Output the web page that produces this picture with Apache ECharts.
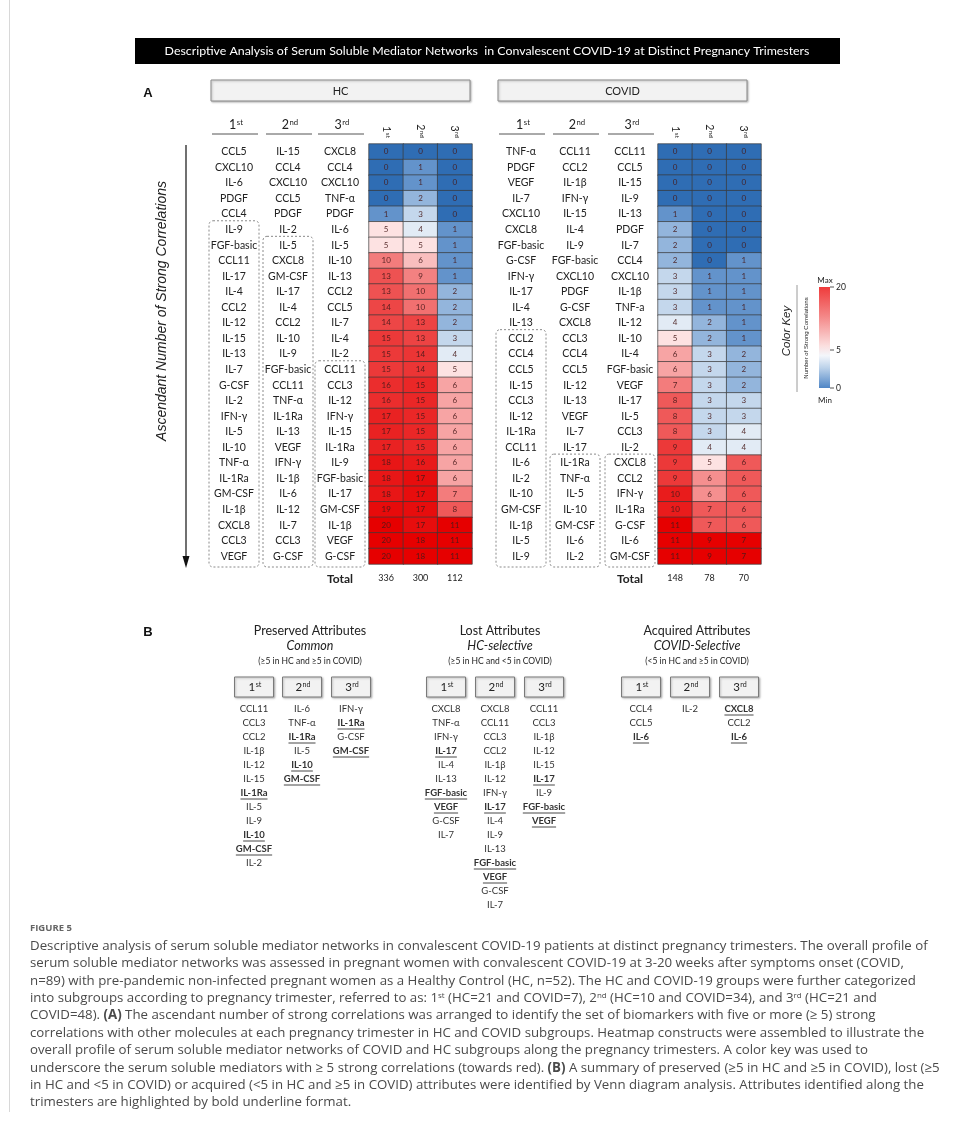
<!DOCTYPE html>
<html><head><meta charset="utf-8">
<script src="https://cdn.jsdelivr.net/npm/echarts@6/dist/echarts.min.js"></script>
<style>html,body{margin:0;padding:0;background:#fff}#c{width:956px;height:1124px}</style>
</head><body><div id="c"></div><script>
// ---------------- DATA ----------------
const trimesters = ['1st', '2nd', '3rd'];
const hc1Names = ['CCL5','CXCL10','IL-6','PDGF','CCL4','IL-9','FGF-basic','CCL11','IL-17','IL-4','CCL2','IL-12','IL-15','IL-13','IL-7','G-CSF','IL-2','IFN-γ','IL-5','IL-10','TNF-α','IL-1Ra','GM-CSF','IL-1β','CXCL8','CCL3','VEGF'];
const hc1Values = [0,0,0,0,1,5,5,10,13,13,14,14,15,15,15,16,16,17,17,17,18,18,18,19,20,20,20];
const hc2Names = ['IL-15','CCL4','CXCL10','CCL5','PDGF','IL-2','IL-5','CXCL8','GM-CSF','IL-17','IL-4','CCL2','IL-10','IL-9','FGF-basic','CCL11','TNF-α','IL-1Ra','IL-13','VEGF','IFN-γ','IL-1β','IL-6','IL-12','IL-7','CCL3','G-CSF'];
const hc2Values = [0,1,1,2,3,4,5,6,9,10,10,13,13,14,14,15,15,15,15,15,16,17,17,17,17,18,18];
const hc3Names = ['CXCL8','CCL4','CXCL10','TNF-α','PDGF','IL-6','IL-5','IL-10','IL-13','CCL2','CCL5','IL-7','IL-4','IL-2','CCL11','CCL3','IL-12','IFN-γ','IL-15','IL-1Ra','IL-9','FGF-basic','IL-17','GM-CSF','IL-1β','VEGF','G-CSF'];
const hc3Values = [0,0,0,0,0,1,1,1,1,2,2,2,3,4,5,6,6,6,6,6,6,6,7,8,11,11,11];
const cov1Names = ['TNF-α','PDGF','VEGF','IL-7','CXCL10','CXCL8','FGF-basic','G-CSF','IFN-γ','IL-17','IL-4','IL-13','CCL2','CCL4','CCL5','IL-15','CCL3','IL-12','IL-1Ra','CCL11','IL-6','IL-2','IL-10','GM-CSF','IL-1β','IL-5','IL-9'];
const cov1Values = [0,0,0,0,1,2,2,2,3,3,3,4,5,6,6,7,8,8,8,9,9,9,10,10,11,11,11];
const cov2Names = ['CCL11','CCL2','IL-1β','IFN-γ','IL-15','IL-4','IL-9','FGF-basic','CXCL10','PDGF','G-CSF','CXCL8','CCL3','CCL4','CCL5','IL-12','IL-13','VEGF','IL-7','IL-17','IL-1Ra','TNF-α','IL-5','IL-10','GM-CSF','IL-6','IL-2'];
const cov2Values = [0,0,0,0,0,0,0,0,1,1,1,2,2,3,3,3,3,3,3,4,5,6,6,7,7,9,9];
const cov3Names = ['CCL11','CCL5','IL-15','IL-9','IL-13','PDGF','IL-7','CCL4','CXCL10','IL-1β','TNF-a','IL-12','IL-10','IL-4','FGF-basic','VEGF','IL-17','IL-5','CCL3','IL-2','CXCL8','CCL2','IFN-γ','IL-1Ra','G-CSF','IL-6','GM-CSF'];
const cov3Values = [0,0,0,0,0,0,0,1,1,1,1,1,1,2,2,2,3,3,4,4,6,6,6,6,6,7,7];
const hcTotals = [336, 300, 112];
const covidTotals = [148, 78, 70];
const keyTicks = [20, 5, 0];

const preserved1 = ['CCL11','CCL3','CCL2','IL-1β','IL-12','IL-15','IL-1Ra','IL-5','IL-9','IL-10','GM-CSF','IL-2'];
const preserved2 = ['IL-6','TNF-α','IL-1Ra','IL-5','IL-10','GM-CSF'];
const preserved3 = ['IFN-γ','IL-1Ra','G-CSF','GM-CSF'];
const preservedBold = ['IL-1Ra','IL-10','GM-CSF'];
const lost1 = ['CXCL8','TNF-α','IFN-γ','IL-17','IL-4','IL-13','FGF-basic','VEGF','G-CSF','IL-7'];
const lost2 = ['CXCL8','CCL11','CCL3','CCL2','IL-1β','IL-12','IFN-γ','IL-17','IL-4','IL-9','IL-13','FGF-basic','VEGF','G-CSF','IL-7'];
const lost3 = ['CCL11','CCL3','IL-1β','IL-12','IL-15','IL-17','IL-9','FGF-basic','VEGF'];
const lostBold = ['IL-17','FGF-basic','VEGF'];
const acquired1 = ['CCL4','CCL5','IL-6'];
const acquired2 = ['IL-2'];
const acquired3 = ['CXCL8','CCL2','IL-6'];
const acquiredBold = ['CXCL8','IL-6'];

const titleText = 'Descriptive Analysis of Serum Soluble Mediator Networks  in Convalescent COVID-19 at Distinct Pregnancy Trimesters';
const captionLines = [
 'Descriptive analysis of serum soluble mediator networks in convalescent COVID-19 patients at distinct pregnancy trimesters. The overall profile of',
 'serum soluble mediator networks was assessed in pregnant women with convalescent COVID-19 at 3-20 weeks after symptoms onset (COVID,',
 'n=89) with pre-pandemic non-infected pregnant women as a Healthy Control (HC, n=52). The HC and COVID-19 groups were further categorized',
 'into subgroups according to pregnancy trimester, referred to as: 1{s|st} (HC=21 and COVID=7), 2{s|nd} (HC=10 and COVID=34), and 3{s|rd} (HC=21 and',
 'COVID=48). {b|(A)} The ascendant number of strong correlations was arranged to identify the set of biomarkers with five or more (≥ 5) strong',
 'correlations with other molecules at each pregnancy trimester in HC and COVID subgroups. Heatmap constructs were assembled to illustrate the',
 'overall profile of serum soluble mediator networks of COVID and HC subgroups along the pregnancy trimesters. A color key was used to',
 'underscore the serum soluble mediators with ≥ 5 strong correlations (towards red). {b|(B)} A summary of preserved (≥5 in HC and ≥5 in COVID), lost (≥5',
 'in HC and <5 in COVID) or acquired (<5 in HC and ≥5 in COVID) attributes were identified by Venn diagram analysis. Attributes identified along the',
 'trimesters are highlighted by bold underline format.'
];

// ---------------- STYLE / LAYOUT ----------------
const TF = 'Lato';
const gridTop = 144, gridH = 420, gridW = 103;
const hcLeft = 369, covLeft = 658;
const hcNameX = [234, 288, 340], covNameX = [521, 575, 630];
const nRows = hc1Names.length, rowH = gridH / nRows;

const measure = (() => { const c = document.createElement('canvas').getContext('2d');
  return (txt, font) => { c.font = font; return c.measureText(txt).width; }; })();

const blueRamp = ['#2f6db4', '#6393cb', '#93b5dc', '#c4d7ec', '#e2ebf5'];
function hex(h){ return [1,3,5].map(i => parseInt(h.substr(i,2),16)); }
function lerp(a, b, t){ const A = hex(a), B = hex(b);
  return 'rgb(' + A.map((v,i) => Math.round(v + (B[i]-v)*t)).join(',') + ')'; }
function stops(max){ const arr = [];
  for (let v = 0; v <= max; v++) arr.push(v < 5 ? blueRamp[v] : lerp('#fde2e2', '#e60000', max === 5 ? 1 : Math.pow((v-5)/(max-5), 0.72)));
  return arr; }

const supRich = (fs) => ({ s: { fontSize: fs * 0.62, verticalAlign: 'top', fontFamily: TF, padding: [0,0,0,0.5] } });
const supFmt = v => v[0] + '{s|' + v.slice(1) + '}';

const cols = [
  {names: hc1Names, values: hc1Values, grid: 0, x: hcNameX[0]},
  {names: hc2Names, values: hc2Values, grid: 0, x: hcNameX[1]},
  {names: hc3Names, values: hc3Values, grid: 0, x: hcNameX[2]},
  {names: cov1Names, values: cov1Values, grid: 1, x: covNameX[0]},
  {names: cov2Names, values: cov2Values, grid: 1, x: covNameX[1]},
  {names: cov3Names, values: cov3Values, grid: 1, x: covNameX[2]}
];

const grids = [hcLeft, covLeft].map(l => ({left: l, top: gridTop, width: gridW, height: gridH}));

const xAxes = [];
[hcTotals, covidTotals].forEach((tot, g) => {
  xAxes.push({gridIndex: g, type: 'category', data: trimesters, position: 'top',
    axisLine: {show: false}, axisTick: {show: false},
    axisLabel: {rotate: 90, margin: 6, fontSize: 10.5, fontFamily: TF, color: '#222',
      formatter: supFmt, rich: supRich(10.5)}});
  xAxes.push({gridIndex: g, type: 'category', data: tot.map(String), position: 'bottom',
    axisLine: {show: false}, axisTick: {show: false},
    axisLabel: {margin: 10, fontSize: 9, fontFamily: TF, color: '#222'}});
});

const yAxes = cols.map(c => {
  const left = c.grid === 0 ? hcLeft : covLeft;
  return {gridIndex: c.grid, type: 'category', data: c.names, inverse: true, position: 'left',
    offset: left - c.x, axisLine: {show: false}, axisTick: {show: false}, splitLine: {show: false},
    axisLabel: {align: 'center', margin: 0, fontSize: 10.5, fontFamily: TF, color: '#222', interval: 0}};
});

const series = cols.map((c, i) => ({
  type: 'heatmap', xAxisIndex: c.grid * 2, yAxisIndex: i,
  data: c.values.map((v, r) => [i % 3, r, v]),
  label: {show: true, fontSize: 8, fontFamily: TF, color: 'rgba(70,25,25,0.9)', formatter: p => p.value[2]},
  itemStyle: {borderColor: '#3a3a3a', borderWidth: 0.7},
  emphasis: {disabled: true}
}));

const visualMaps = cols.map((c, i) => {
  const mx = Math.max(...c.values);
  return {type: 'continuous', show: false, seriesIndex: i, dimension: 2, min: 0, max: mx, inRange: {color: stops(mx)}};
});

// ---------------- GRAPHICS ----------------
const G = [];
const txt = (x, y, text, st, extra) => G.push(Object.assign({type: 'text', x, y, silent: true,
  style: Object.assign({text, fill: '#222', align: 'center', verticalAlign: 'middle', fontFamily: TF, fontSize: 11}, st)}, extra || {}));
const line = (x1, y1, x2, y2, st) => G.push({type: 'line', silent: true, shape: {x1, y1, x2, y2}, style: Object.assign({stroke: '#333', lineWidth: 1}, st)});
const rect = (x, y, w, h, st, r) => G.push({type: 'rect', silent: true, shape: {x, y, width: w, height: h, r: r || 0}, style: st});

// left page rule
line(9.5, 0, 9.5, 1112, {stroke: '#d8d8d8', lineWidth: 1});

// title bar
rect(135, 38, 705, 26, {fill: '#000'});
{ const w = measure(titleText, '12px ' + TF); txt(487, 51, titleText, {fill: '#fff', fontSize: 12 * 645 / w}); }

// panel letters
txt(148, 93, 'A', {fontFamily: 'Liberation Sans', fontWeight: 'bold', fontSize: 13, fill: '#111'});
txt(148, 632, 'B', {fontFamily: 'Liberation Sans', fontWeight: 'bold', fontSize: 13, fill: '#111'});

// group header boxes
[[211, 259, 'HC'], [498, 249, 'COVID']].forEach(([x, w, t]) => {
  rect(x, 80, w, 21, {fill: '#f2f2f2', stroke: '#8a8a8a', lineWidth: 1, shadowBlur: 2, shadowColor: 'rgba(0,0,0,0.25)', shadowOffsetX: 1, shadowOffsetY: 1});
  txt(x + w / 2, 91, t, {fontSize: 11});
});

// name column headers + underlines
[...hcNameX, ...covNameX].forEach((x, i) => {
  txt(x + 2, 125, supFmt(trimesters[i % 3]), {fontSize: 12.5, rich: supRich(12.5)});
  line(x - 22, 134, x + 24, 134, {stroke: '#555', lineWidth: 1});
});

// totals label
txt(340, 579, 'Total', {fontSize: 12, fontWeight: 'bold'});
txt(630, 579, 'Total', {fontSize: 12, fontWeight: 'bold'});

// dashed boxes for >=5 groups (start row derived from data)
cols.forEach(c => {
  const start = c.values.findIndex(v => v >= 5);
  const y0 = gridTop + start * rowH - 1;
  rect(c.x - 25, y0, 50, gridTop + gridH + 3 - y0, {fill: 'none', stroke: '#8a8a8a', lineWidth: 1, lineDash: [2, 2]}, 4);
});

// arrow + axis caption
line(186, 145, 186, 558, {stroke: '#111', lineWidth: 1.2});
G.push({type: 'polygon', silent: true, shape: {points: [[182.5, 556], [189.5, 556], [186, 568]]}, style: {fill: '#111'}});
txt(162, 311, 'Ascendant Number of Strong Correlations', {fontFamily: 'Liberation Sans', fontStyle: 'italic', fontSize: 14, fill: '#222'}, {rotation: Math.PI / 2});

// color key
txt(787, 331, 'Color Key', {fontFamily: 'Liberation Sans', fontStyle: 'italic', fontSize: 11.5}, {rotation: Math.PI / 2});
line(797, 285, 797, 392, {stroke: '#9a9a9a'});
txt(806, 338, 'Number of Strong Correlations', {fontSize: 6, fontFamily: 'Liberation Sans'}, {rotation: Math.PI / 2});
rect(819, 287, 11, 101, {fill: new echarts.graphic.LinearGradient(0, 0, 0, 1, [
  {offset: 0, color: '#ef3b3b'}, {offset: 0.3, color: '#f48a8a'}, {offset: 0.58, color: '#fbdede'},
  {offset: 0.68, color: '#f3f6fb'}, {offset: 0.8, color: '#bcd2ea'}, {offset: 1, color: '#4f86c6'}])});
const keyY = v => v >= 5 ? 287 + (20 - v) / 15 * 63 : 350 + (5 - v) / 5 * 38;
keyTicks.forEach(v => { line(830, keyY(v), 834, keyY(v), {stroke: '#555'}); txt(836, keyY(v), String(v), {align: 'left', fontSize: 8.5}); });
txt(825, 280, 'Max', {fontSize: 8});
txt(825, 400, 'Min', {fontSize: 8});

// ---------------- Panel B ----------------
const panels = [
  {title: 'Preserved Attributes', sub: 'Common', cond: '(≥5 in HC and ≥5 in COVID)', cx: 310, xs: [254, 302, 351], lists: [preserved1, preserved2, preserved3], bold: preservedBold},
  {title: 'Lost Attributes', sub: 'HC-selective', cond: '(≥5 in HC and <5 in COVID)', cx: 500, xs: [446, 495, 544], lists: [lost1, lost2, lost3], bold: lostBold},
  {title: 'Acquired Attributes', sub: 'COVID-Selective', cond: '(<5 in HC and ≥5 in COVID)', cx: 697, xs: [641, 690, 739], lists: [acquired1, acquired2, acquired3], bold: acquiredBold}
];
panels.forEach(p => {
  txt(p.cx, 631, p.title, {fontSize: 12.5});
  txt(p.cx, 646, p.sub, {fontSize: 12.5, fontStyle: 'italic'});
  txt(p.cx, 661, p.cond, {fontSize: 8.5});
  p.xs.forEach((x, k) => {
    rect(x - 19.5, 677, 39, 20, {fill: '#f2f2f2', stroke: '#7a7a7a', lineWidth: 1, shadowBlur: 2, shadowColor: 'rgba(0,0,0,0.25)', shadowOffsetX: 1, shadowOffsetY: 1});
    txt(x + 1, 687, supFmt(trimesters[k]), {fontSize: 11.5, rich: supRich(11.5)});
    p.lists[k].forEach((name, r) => {
      const y = 709 + r * 14;
      const b = p.bold.includes(name);
      txt(x, y, name, {fontSize: 9.5, fontWeight: b ? 'bold' : 'normal', fill: '#333'});
      if (b) { const w = measure(name, 'bold 9.5px ' + TF); line(x - w / 2, y + 6, x + w / 2, y + 6, {stroke: '#333', lineWidth: 0.9}); }
    });
  });
});

// ---------------- Caption ----------------
txt(30, 928, 'FIGURE 5', {align: 'left', fontFamily: 'Open Sans', fontWeight: 'bold', fontSize: 9.5, fill: '#666'});
{
  const base = 12; const w = measure(captionLines[0], base + 'px "Open Sans"');
  const fs = base * 899 / w;
  captionLines.forEach((l, i) => txt(30, 946 + i * 17.4, l, {align: 'left', fontFamily: 'Open Sans', fontSize: fs, fill: '#4a4a4a',
    rich: {s: {fontSize: fs * 0.6, verticalAlign: 'top', fontFamily: 'Open Sans', fill: '#4a4a4a'},
           b: {fontWeight: 'bold', fontSize: fs, fontFamily: 'Open Sans', fill: '#4a4a4a'}}}));
}

const chart = echarts.init(document.getElementById('c'), null, {renderer: 'canvas'});
chart.setOption({
  backgroundColor: '#fff', animation: false,
  grid: grids, xAxis: xAxes, yAxis: yAxes, visualMap: visualMaps, series: series, graphic: G
});
</script></body></html>
